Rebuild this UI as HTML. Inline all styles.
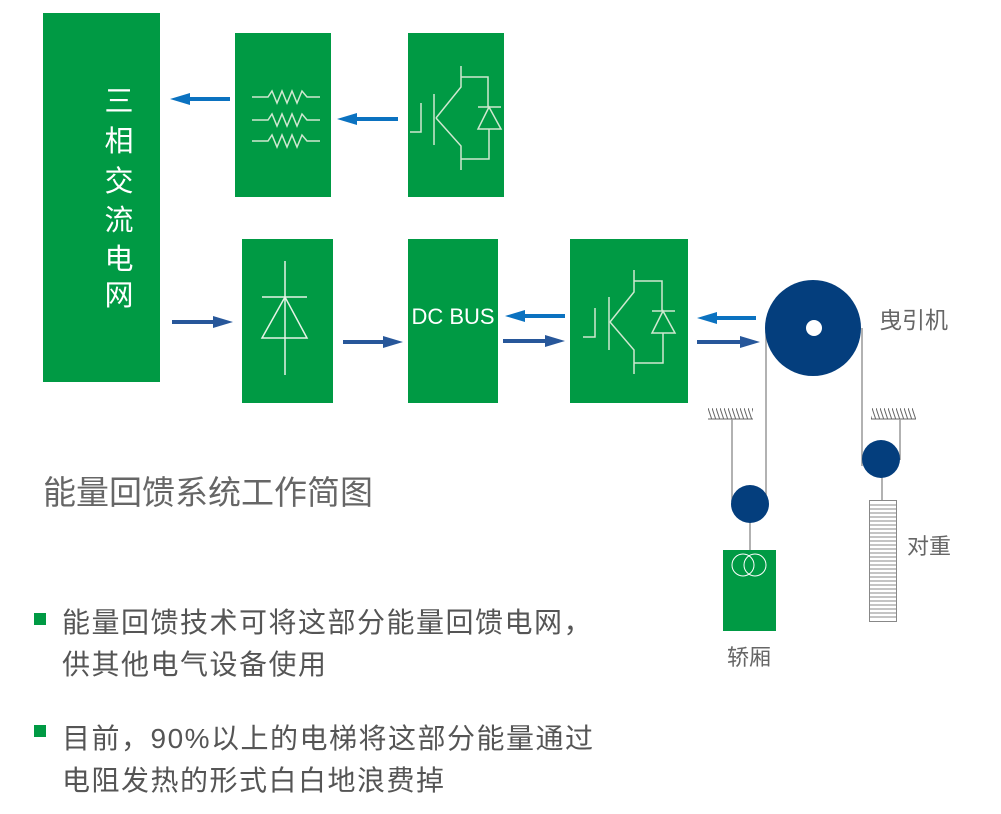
<!DOCTYPE html>
<html><head><meta charset="utf-8"><style>
html,body{margin:0;padding:0;background:#fff;}
svg{display:block;}
text{font-family:"Liberation Sans","Noto Sans CJK SC",sans-serif;}
</style></head><body>
<svg width="1001" height="814" viewBox="0 0 1001 814" xmlns="http://www.w3.org/2000/svg">
<defs>
<pattern id="hatch" width="4" height="12" patternUnits="userSpaceOnUse"><line x1="0" y1="0" x2="4" y2="12" stroke="#666" stroke-width="1"/></pattern>
</defs>
<g fill="#009a44">
<rect x="43" y="13" width="117" height="369"/>
<rect x="235" y="33" width="96" height="164"/>
<rect x="408" y="33" width="96" height="164"/>
<rect x="242" y="239" width="91" height="164"/>
<rect x="408" y="239" width="90" height="164"/>
<rect x="570" y="239" width="118" height="164"/>
<rect x="723" y="550" width="53" height="81"/>
</g>
<g fill="#fff" font-size="29" text-anchor="middle">
<text x="119" y="111">三</text><text x="119" y="151">相</text><text x="119" y="191">交</text>
<text x="119" y="230">流</text><text x="119" y="269">电</text><text x="119" y="305">网</text>
</g>
<text x="453" y="324" fill="#fff" font-size="22" text-anchor="middle">DC BUS</text>
<g stroke="#cfe8d0" stroke-width="1.5" fill="none">
<polyline points="252,97 268,97 272,91 277,103 282,91 287,103 292,91 297,103 302,91 307,97 320,97"/>
<polyline points="252,120 268,120 272,114 277,126 282,114 287,126 292,114 297,126 302,114 307,120 320,120"/>
<polyline points="252,141 268,141 272,135 277,147 282,135 287,147 292,135 297,147 302,135 307,141 320,141"/>
</g>
<g stroke="#cfe8d0" stroke-width="1.5" fill="none">
<polyline points="410,132 421,132 421,103"/>
<line x1="434" y1="94" x2="434" y2="145"/>
<polyline points="436,118 461,87 461,66"/>
<polyline points="461,77 488,77 488,107"/>
<line x1="478" y1="107" x2="501" y2="107"/>
<polygon points="489,107 478,129 501,129"/>
<polyline points="489,129 489,159 461,159"/>
<polyline points="436,118 461,146 461,170"/>
</g>
<g stroke="#cfe8d0" stroke-width="1.5" fill="none">
<polyline points="583,337 595,337 595,308"/>
<line x1="609" y1="297" x2="609" y2="350"/>
<polyline points="610,322 634,292 634,270"/>
<polyline points="634,281 662,281 662,311"/>
<line x1="652" y1="311" x2="675" y2="311"/>
<polygon points="663,311 652,333 675,333"/>
<polyline points="663,333 663,363 634,363"/>
<polyline points="610,322 634,350 634,374"/>
</g>
<g stroke="#e6f3e6" stroke-width="1.5" fill="none">
<line x1="285" y1="261" x2="285" y2="375"/>
<line x1="262" y1="297" x2="307" y2="297"/>
<polygon points="285,297 262,338 307,338"/>
</g>
<g stroke-width="4">
<line x1="230" y1="99" x2="185" y2="99" stroke="#0b72c0"/><polygon points="170,99 190,93 190,105" fill="#0b72c0"/>
<line x1="398" y1="119" x2="352" y2="119" stroke="#0b72c0"/><polygon points="337,119 357,113 357,125" fill="#0b72c0"/>
<line x1="172" y1="322" x2="218" y2="322" stroke="#27579a"/><polygon points="233,322 213,316 213,328" fill="#27579a"/>
<line x1="343" y1="342" x2="388" y2="342" stroke="#27579a"/><polygon points="403,342 383,336 383,348" fill="#27579a"/>
<line x1="565" y1="316" x2="520" y2="316" stroke="#0b72c0"/><polygon points="505,316 525,310 525,322" fill="#0b72c0"/>
<line x1="503" y1="341" x2="550" y2="341" stroke="#27579a"/><polygon points="565,341 545,335 545,347" fill="#27579a"/>
<line x1="756" y1="318" x2="712" y2="318" stroke="#0b72c0"/><polygon points="697,318 717,312 717,324" fill="#0b72c0"/>
<line x1="697" y1="342" x2="745" y2="342" stroke="#27579a"/><polygon points="760,342 740,336 740,348" fill="#27579a"/>
</g>
<g stroke="#999" stroke-width="1.5">
<line x1="766" y1="328" x2="766" y2="500"/>
<line x1="862" y1="328" x2="862" y2="466"/>
<line x1="732" y1="419" x2="732" y2="502"/>
<line x1="900" y1="419" x2="900" y2="460"/>
<line x1="750" y1="515" x2="750" y2="550"/>
<line x1="882" y1="470" x2="882" y2="500"/>
<line x1="708" y1="419" x2="753" y2="419"/>
<line x1="871" y1="419" x2="916" y2="419"/>
</g>
<rect x="708" y="408" width="45" height="11" fill="url(#hatch)"/>
<rect x="871" y="408" width="45" height="11" fill="url(#hatch)"/>
<g fill="#043e7d">
<circle cx="813" cy="328" r="48"/>
<circle cx="750" cy="504" r="19"/>
<circle cx="881" cy="459" r="19"/>
</g>
<circle cx="814" cy="328" r="8" fill="#fff"/>
<circle cx="743" cy="565" r="11" fill="none" stroke="#fff" stroke-width="1"/>
<circle cx="755" cy="565" r="11" fill="none" stroke="#fff" stroke-width="1"/>
<rect x="869.5" y="500.5" width="27" height="121" fill="#fff" stroke="#888" stroke-width="1"/>
<g stroke="#888" stroke-width="1">
<path d="M869 505h28M869 509h28M869 513h28M869 517h28M869 521h28M869 525h28M869 529h28M869 533h28M869 537h28M869 541h28M869 545h28M869 549h28M869 553h28M869 557h28M869 561h28M869 565h28M869 569h28M869 573h28M869 577h28M869 581h28M869 585h28M869 589h28M869 593h28M869 597h28M869 601h28M869 605h28M869 609h28M869 613h28M869 617h28"/>
</g>
<g fill="#666">
<text x="879" y="328" font-size="23">曳引机</text>
<text x="907" y="554" font-size="22">对重</text>
<text x="727" y="665" font-size="22">轿厢</text>
</g>
<text x="43" y="504" fill="#666" font-size="33">能量回馈系统工作简图</text>
<rect x="34" y="613" width="12" height="12" fill="#009a44"/>
<rect x="34" y="725" width="12" height="12" fill="#009a44"/>
<g fill="#555" font-size="28" letter-spacing="1.5">
<text x="62" y="632">能量回馈技术可将这部分能量回馈电网，</text>
<text x="62" y="674">供其他电气设备使用</text>
<text x="62" y="748">目前，90%以上的电梯将这部分能量通过</text>
<text x="62" y="790">电阻发热的形式白白地浪费掉</text>
</g>
</svg>
</body></html>
